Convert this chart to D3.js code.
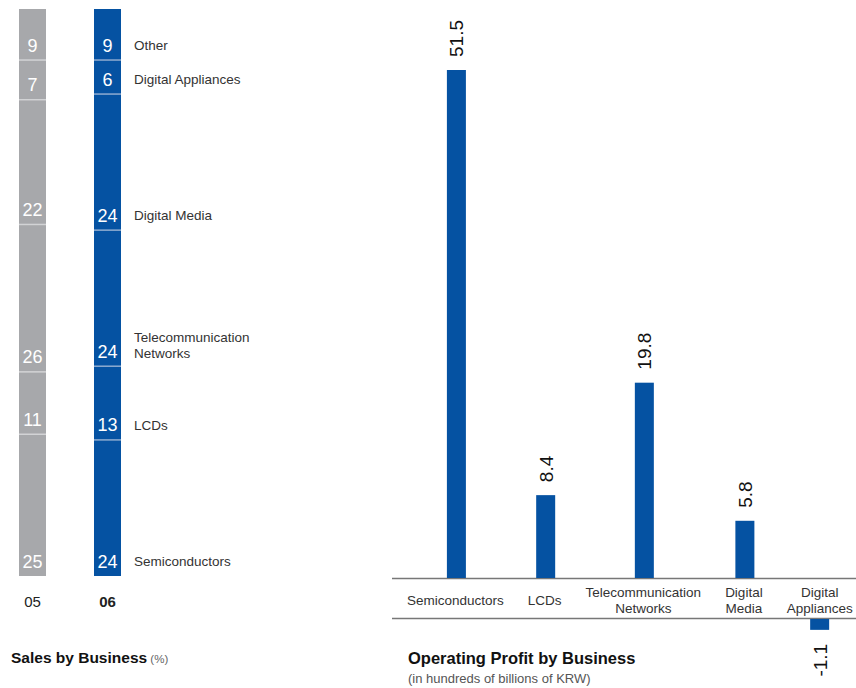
<!DOCTYPE html>
<html>
<head>
<meta charset="utf-8">
<script src="https://cdn.jsdelivr.net/npm/d3@7"></script>
<style>
  body { margin: 0; background: #fff; }
  svg { display: block; font-family: "Liberation Sans", Arial, Helvetica, sans-serif; }
</style>
</head>
<body>
<svg id="chart" width="856" height="688"></svg>
<script>
// ---------- DATA ----------
const salesCategories = ["Semiconductors", "LCDs", "Telecommunication Networks", "Digital Media", "Digital Appliances", "Other"];
const salesYears = ["05", "06"];
const sales05 = [25, 11, 26, 22, 7, 9];
const sales06 = [24, 13, 24, 24, 6, 9];

const profitCategories = ["Semiconductors", "LCDs", "Telecommunication Networks", "Digital Media", "Digital Appliances"];
const profitLabelLines = [["Semiconductors"], ["LCDs"], ["Telecommunication", "Networks"], ["Digital", "Media"], ["Digital", "Appliances"]];
const profitValues = [51.5, 8.4, 19.8, 5.8, -1.1];

const BLUE = "#0552a2", GRAY = "#a7a8ab";

const svg = d3.select("#chart");

// ---------- LEFT: Sales by Business (stacked 100%) ----------
const xS = d3.scaleBand().domain(salesYears).range([19, 121]).paddingInner(0.64).paddingOuter(0);
const yS = d3.scaleLinear().domain([0, 100]).range([576, 9]);

const seriesBy = { "05": sales05, "06": sales06 };
const fills = { "05": GRAY, "06": BLUE };
const dividers = { "05": "#d2d3d5", "06": "#8eabd0" };

salesYears.forEach(yr => {
  const vals = seriesBy[yr];
  const stack = [];
  let acc = 0;
  vals.forEach((v, i) => { stack.push({ cat: salesCategories[i], v, y0: acc, y1: acc + v }); acc += v; });
  const g = svg.append("g");
  const bx = xS(yr), bw = xS.bandwidth();
  g.selectAll("rect.seg").data(stack).join("rect")
    .attr("x", bx).attr("width", bw)
    .attr("y", d => yS(d.y1)).attr("height", d => yS(d.y0) - yS(d.y1))
    .attr("fill", fills[yr]);
  g.selectAll("line.div").data(stack.slice(1)).join("line")
    .attr("x1", bx).attr("x2", bx + bw)
    .attr("y1", d => yS(d.y0)).attr("y2", d => yS(d.y0))
    .attr("stroke", dividers[yr]).attr("stroke-width", 1.5);
  g.selectAll("text.num").data(stack).join("text")
    .attr("x", bx + bw / 2).attr("y", d => yS(d.y0) - 8.5)
    .attr("text-anchor", "middle")
    .attr("fill", "#fff").attr("font-size", 18)
    .text(d => d.v);
  g.append("text")
    .attr("x", bx + bw / 2).attr("y", 607)
    .attr("text-anchor", "middle")
    .attr("fill", "#222").attr("font-size", 15)
    .attr("font-weight", yr === "06" ? "bold" : "normal")
    .text(yr);
});

// category labels to the right of 06 bar
const lblX = xS("06") + xS.bandwidth() + 13;
const legendLines = { "Telecommunication Networks": ["Telecommunication", "Networks"] };
let acc06 = 0;
sales06.forEach((v, i) => {
  const cat = salesCategories[i];
  const yBase = yS(acc06) - 9;
  acc06 += v;
  const lines = legendLines[cat] || [cat];
  const t = svg.append("text").attr("x", lblX).attr("font-size", 13.5).attr("fill", "#333");
  if (lines.length === 1) {
    t.attr("y", yBase - 1).text(cat);
  } else {
    t.attr("y", yBase - 15);
    lines.forEach((ln, j) => t.append("tspan").attr("x", lblX).attr("dy", j === 0 ? 0 : 16).text(ln));
  }
});

const lt = svg.append("text").attr("x", 11).attr("y", 663).attr("fill", "#111");
lt.append("tspan").attr("font-size", 15.5).attr("font-weight", "bold").text("Sales by Business");
lt.append("tspan").attr("font-size", 11.5).attr("fill", "#666").text(" (%)");

// ---------- RIGHT: Operating Profit by Business ----------
const axisTop = 578.5, axisBottom = 618.5;
const yP = d3.scaleLinear().domain([0, 51.5]).range([578, 70]);
const pxPerUnit = yP(0) - yP(1);

// x positions laid out from measured label widths
const LBL_FS = 13.5;
const labelG = svg.append("g");
const widths = profitLabelLines.map(lines => {
  const t = labelG.append("text").attr("font-size", LBL_FS).attr("visibility", "hidden");
  const w = d3.max(lines, ln => { t.text(ln); return t.node().getComputedTextLength(); });
  t.remove();
  return w;
});
const gap = 24;
let cursor = 407;
const centers = widths.map(w => { const c = cursor + w / 2; cursor += w + gap; return c; });
const xP = d3.scaleOrdinal().domain(profitCategories).range(centers);
const barW = 19;

svg.append("line").attr("x1", 392).attr("x2", 856).attr("y1", axisTop).attr("y2", axisTop)
  .attr("stroke", "#777").attr("stroke-width", 1.3);
svg.append("line").attr("x1", 392).attr("x2", 856).attr("y1", axisBottom).attr("y2", axisBottom)
  .attr("stroke", "#777").attr("stroke-width", 1.3);

const bars = profitCategories.map((c, i) => ({ c, v: profitValues[i], lines: profitLabelLines[i] }));

svg.selectAll("rect.pbar").data(bars).join("rect")
  .attr("x", d => xP(d.c) - barW / 2 + (d.v >= 0 ? 1 : 0)).attr("width", barW)
  .attr("y", d => d.v >= 0 ? yP(d.v) : axisBottom + 0.5)
  .attr("height", d => d.v >= 0 ? yP(0) - yP(d.v) : -d.v * pxPerUnit)
  .attr("fill", BLUE);

svg.selectAll("text.pval").data(bars).join("text")
  .attr("transform", d => {
    const yy = d.v >= 0 ? yP(d.v) - 13 : axisBottom + 0.5 - d.v * pxPerUnit + 14;
    return `translate(${xP(d.c) + (d.v >= 0 ? 1 : 0)},${yy}) rotate(-90)`;
  })
  .attr("text-anchor", d => d.v >= 0 ? "start" : "end")
  .attr("dy", "0.36em")
  .attr("font-size", 19).attr("fill", "#111")
  .text(d => d.v);

bars.forEach(d => {
  const t = svg.append("text").attr("text-anchor", "middle").attr("font-size", LBL_FS).attr("fill", "#333");
  if (d.lines.length === 1) {
    t.attr("x", xP(d.c)).attr("y", 605).text(d.lines[0]);
  } else {
    d.lines.forEach((ln, j) => t.append("tspan").attr("x", xP(d.c)).attr("y", 597 + j * 15.5).text(ln));
  }
});

svg.append("text").attr("x", 408).attr("y", 664).attr("font-size", 16.5).attr("font-weight", "bold")
  .attr("fill", "#111").text("Operating Profit by Business");
svg.append("text").attr("x", 408).attr("y", 683).attr("font-size", 13).attr("fill", "#555")
  .text("(in hundreds of billions of KRW)");
</script>
</body>
</html>
